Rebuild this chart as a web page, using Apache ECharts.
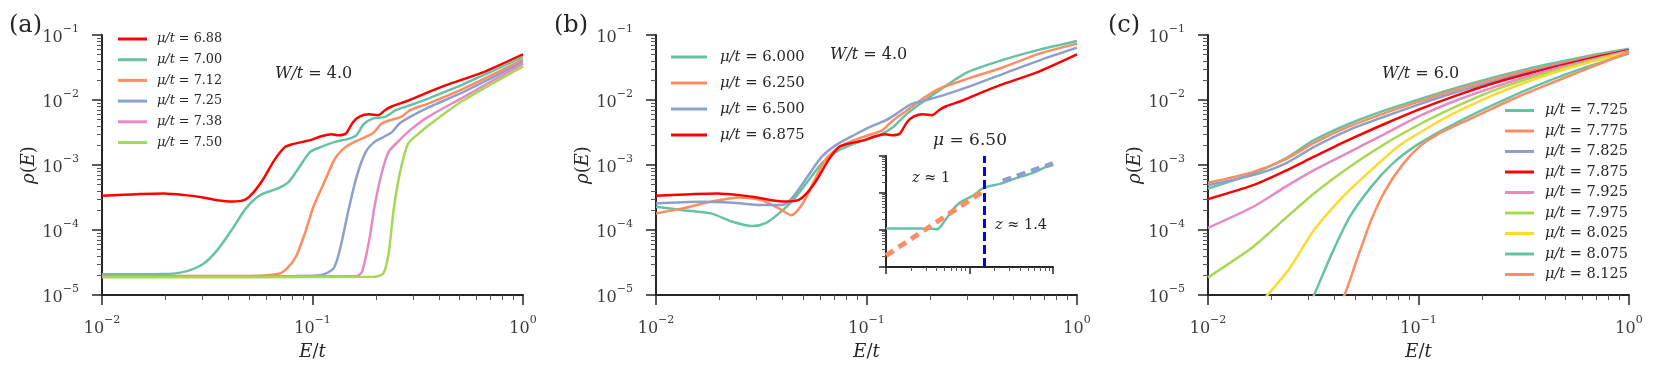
<!DOCTYPE html>
<html><head><meta charset="utf-8">
<script src="https://cdn.jsdelivr.net/npm/echarts@6/dist/echarts.min.js"></script>
<style>html,body{margin:0;padding:0;background:#fff}#c{width:1660px;height:387px}</style>
</head><body><div id="c"></div><script>
// ---------- tick values ----------
const xMajor = [0.01, 0.1, 1];
const xMinor = [0.02,0.03,0.04,0.05,0.06,0.07,0.08,0.09,0.2,0.3,0.4,0.5,0.6,0.7,0.8,0.9];
const yMajor = [1e-5, 1e-4, 1e-3, 1e-2, 1e-1];
const yMinor = [2e-5,3e-5,4e-5,5e-5,6e-5,7e-5,8e-5,9e-5,2e-4,3e-4,4e-4,5e-4,6e-4,7e-4,8e-4,9e-4,
                2e-3,3e-3,4e-3,5e-3,6e-3,7e-3,8e-3,9e-3,2e-2,3e-2,4e-2,5e-2,6e-2,7e-2,8e-2,9e-2];
const insetYMajor = [1e-4, 1e-3, 1e-2, 1e-1];
const insetYMinor = [2e-4,3e-4,4e-4,5e-4,6e-4,7e-4,8e-4,9e-4,2e-3,3e-3,4e-3,5e-3,6e-3,7e-3,8e-3,9e-3,2e-2,3e-2,4e-2,5e-2,6e-2,7e-2,8e-2,9e-2];

// ---------- panel (a): W/t = 4.0, [E/t, rho] ----------
const rho688 = [[0.01,3.36e-4],[0.0196,3.65e-4],[0.0248,3.44e-4],[0.0302,3.17e-4],[0.0353,2.88e-4],[0.0413,2.75e-4],[0.0473,2.88e-4],[0.0522,3.73e-4],[0.0586,6.21e-4],[0.0659,1.19e-3],[0.0741,1.90e-3],[0.0802,2.09e-3],[0.0902,2.27e-3],[0.0975,2.41e-3],[0.110,2.77e-3],[0.123,2.98e-3],[0.133,2.87e-3],[0.144,3.05e-3],[0.156,4.60e-3],[0.168,5.62e-3],[0.186,6.04e-3],[0.205,5.83e-3],[0.221,6.97e-3],[0.239,8.02e-3],[0.280,9.57e-3],[0.327,1.18e-2],[0.431,1.69e-2],[0.635,2.61e-2],[1,5.05e-2]];
const rho700 = [[0.01,2.08e-5],[0.0196,2.10e-5],[0.0248,2.29e-5],[0.0302,2.99e-5],[0.0353,4.91e-5],[0.0413,9.98e-5],[0.0483,2.15e-4],[0.0564,3.44e-4],[0.0685,4.36e-4],[0.0771,5.51e-4],[0.0867,9.38e-4],[0.0975,1.59e-3],[0.110,1.90e-3],[0.128,2.27e-3],[0.150,2.55e-3],[0.162,2.87e-3],[0.175,4.24e-3],[0.193,5.18e-3],[0.221,5.50e-3],[0.249,6.97e-3],[0.291,8.30e-3],[0.354,1.05e-2],[0.522,1.75e-2],[1,4.59e-2]];
const rho712 = [[0.01,1.96e-5],[0.0502,1.96e-5],[0.0685,2.10e-5],[0.0757,2.57e-5],[0.0834,3.88e-5],[0.0920,8.87e-5],[0.101,2.28e-4],[0.114,5.51e-4],[0.128,1.26e-3],[0.144,1.90e-3],[0.162,2.35e-3],[0.182,2.77e-3],[0.197,3.24e-3],[0.213,4.35e-3],[0.239,5.00e-3],[0.264,5.50e-3],[0.291,6.97e-3],[0.354,8.81e-3],[0.522,1.50e-2],[1,4.18e-2]];
const rho725 = [[0.01,1.91e-5],[0.0834,1.96e-5],[0.110,2.03e-5],[0.126,2.57e-5],[0.136,5.53e-5],[0.147,1.80e-4],[0.162,6.58e-4],[0.179,1.59e-3],[0.197,2.27e-3],[0.221,2.77e-3],[0.239,3.24e-3],[0.259,4.35e-3],[0.291,5.50e-3],[0.354,7.64e-3],[0.522,1.33e-2],[1,3.85e-2]];
const rho738 = [[0.01,1.91e-5],[0.162,1.96e-5],[0.172,2.29e-5],[0.186,7.00e-5],[0.197,2.28e-4],[0.213,7.40e-4],[0.230,1.59e-3],[0.259,2.41e-3],[0.291,3.44e-3],[0.354,5.50e-3],[0.522,1.11e-2],[1,3.63e-2]];
const rho750 = [[0.01,1.87e-5],[0.197,1.91e-5],[0.217,2.15e-5],[0.230,4.37e-5],[0.244,2.28e-4],[0.264,9.38e-4],[0.285,2.14e-3],[0.327,3.24e-3],[0.383,4.89e-3],[0.522,9.91e-3],[1,3.30e-2]];

// ---------- panel (b): W/t = 4.0 ----------
const rho6000 = [[0.01,2.28e-4],[0.0134,2.02e-4],[0.0182,1.80e-4],[0.0231,1.34e-4],[0.0286,1.15e-4],[0.0334,1.29e-4],[0.0384,1.80e-4],[0.0448,2.88e-4],[0.0524,5.51e-4],[0.0612,1.05e-3],[0.0716,1.59e-3],[0.0838,2.02e-3],[0.0979,2.41e-3],[0.115,2.87e-3],[0.134,3.85e-3],[0.156,6.18e-3],[0.190,9.91e-3],[0.231,1.55e-2],[0.304,2.70e-2],[0.449,4.18e-2],[0.664,5.96e-2],[1,8.09e-2]];
const rho6250 = [[0.01,1.80e-4],[0.0134,2.15e-4],[0.0182,2.72e-4],[0.0249,3.17e-4],[0.0316,2.88e-4],[0.0384,2.15e-4],[0.0440,1.69e-4],[0.0504,2.72e-4],[0.0566,5.85e-4],[0.0637,1.19e-3],[0.0745,1.90e-3],[0.0871,2.41e-3],[0.102,2.87e-3],[0.119,3.43e-3],[0.134,4.89e-3],[0.156,6.97e-3],[0.190,1.11e-2],[0.222,1.50e-2],[0.304,2.13e-2],[0.449,3.22e-2],[0.664,5.16e-2],[1,7.36e-2]];
const rho6500 = [[0.01,2.56e-4],[0.0162,2.72e-4],[0.0231,2.62e-4],[0.0316,2.42e-4],[0.0398,2.42e-4],[0.0448,3.24e-4],[0.0524,6.58e-4],[0.0612,1.33e-3],[0.0716,2.02e-3],[0.0871,2.87e-3],[0.106,3.95e-3],[0.124,4.89e-3],[0.139,6.18e-3],[0.163,8.61e-3],[0.190,9.91e-3],[0.231,1.18e-2],[0.304,1.59e-2],[0.449,2.55e-2],[0.664,4.08e-2],[1,6.38e-2]];
const rho6875 = rho688;

// inset (mu = 6.50)
const insetRho = [[0.01,1.10e-3],[0.0251,1.10e-3],[0.0355,1.08e-3],[0.0408,1.04e-3],[0.0509,1.81e-3],[0.0617,3.35e-3],[0.0769,5.50e-3],[0.110,8.47e-3],[0.149,1.39e-2],[0.232,1.77e-2],[0.371,2.57e-2],[0.575,3.50e-2],[0.973,6.11e-2]];
const insetFitZ1 = [[0.01,2.04e-4],[0.149,1.15e-2]];
const insetFitZ14 = [[0.251,2.09e-2],[1,6.25e-2]];
const insetCut = 0.149;

// ---------- panel (c): W/t = 6.0 ----------
const rho7725 = [[0.01,4.36e-4],[0.0164,7.40e-4],[0.0233,1.26e-3],[0.0319,2.41e-3],[0.0472,4.35e-3],[0.0697,6.97e-3],[0.103,1.05e-2],[0.152,1.55e-2],[0.225,2.21e-2],[0.333,3.04e-2],[0.491,3.98e-2],[0.726,5.16e-2],[1,6.17e-2]];
const rho7775 = [[0.01,5.32e-4],[0.0164,7.85e-4],[0.0233,1.22e-3],[0.0319,2.19e-3],[0.0472,3.95e-3],[0.0697,6.34e-3],[0.103,9.68e-3],[0.152,1.45e-2],[0.225,2.06e-2],[0.333,2.86e-2],[0.491,3.76e-2],[0.726,4.88e-2],[1,5.81e-2]];
const rho7825 = [[0.01,4.90e-4],[0.0164,6.98e-4],[0.0233,1.05e-3],[0.0319,1.90e-3],[0.0472,3.51e-3],[0.0697,5.62e-3],[0.103,8.81e-3],[0.152,1.33e-2],[0.225,1.92e-2],[0.333,2.70e-2],[0.491,3.63e-2],[0.726,4.75e-2],[1,5.81e-2]];
const rho7875 = [[0.01,2.99e-4],[0.0164,4.90e-4],[0.0233,8.13e-4],[0.0319,1.34e-3],[0.0472,2.47e-3],[0.0697,4.35e-3],[0.103,7.38e-3],[0.152,1.18e-2],[0.225,1.79e-2],[0.333,2.55e-2],[0.491,3.50e-2],[0.726,4.70e-2],[1,5.81e-2]];
const rho7925 = [[0.01,1.08e-4],[0.0164,2.28e-4],[0.0233,4.61e-4],[0.0319,8.34e-4],[0.0472,1.59e-3],[0.0697,3.05e-3],[0.103,5.83e-3],[0.152,9.91e-3],[0.225,1.55e-2],[0.333,2.32e-2],[0.491,3.30e-2],[0.726,4.49e-2],[1,5.68e-2]];
const rho7975 = [[0.01,1.87e-5],[0.0164,5.53e-5],[0.0233,1.51e-4],[0.0319,3.65e-4],[0.0472,9.38e-4],[0.0697,2.14e-3],[0.103,4.35e-3],[0.152,8.02e-3],[0.225,1.38e-2],[0.333,2.13e-2],[0.491,3.11e-2],[0.726,4.33e-2],[1,5.48e-2]];
const rho8025 = [[0.0171,6.6e-6],[0.0238,2.29e-5],[0.0319,9.98e-5],[0.0437,3.24e-4],[0.0596,8.34e-4],[0.0815,2.02e-3],[0.120,4.35e-3],[0.152,6.56e-3],[0.225,1.18e-2],[0.333,1.94e-2],[0.491,2.94e-2],[0.726,4.18e-2],[1,5.35e-2]];
const rho8075 = [[0.0302,7.1e-6],[0.0319,1e-5],[0.0388,4.37e-5],[0.0472,1.60e-4],[0.0596,4.61e-4],[0.0753,1.05e-3],[0.0953,1.90e-3],[0.130,3.43e-3],[0.185,6.18e-3],[0.273,1.11e-2],[0.404,1.90e-2],[0.597,3.04e-2],[1,5.16e-2]];
const rho8125 = [[0.0417,7.1e-6],[0.0445,1e-5],[0.0509,3.45e-5],[0.0596,1.42e-4],[0.0697,4.10e-4],[0.0847,1.05e-3],[0.103,2.02e-3],[0.125,3.05e-3],[0.185,5.50e-3],[0.273,9.91e-3],[0.404,1.69e-2],[0.597,2.80e-2],[1,5.48e-2]];

// ---------- styling ----------
const GREEN='#66c2a5', ORANGE='#fc8d62', BLUE='#8da0cb', PINK='#e78ac3', LIME='#a6d854', YELLOW='#ffd92f', RED='#ff0000';
const SERIF = '"DejaVu Serif", "Liberation Serif", serif';
const AXC = '#262626';
const LBL = '#3a3a3a';
const TXT = '#262626';

const panelSeries = [
  [ ['μ/t = 6.88', rho688, RED], ['μ/t = 7.00', rho700, GREEN], ['μ/t = 7.12', rho712, ORANGE],
    ['μ/t = 7.25', rho725, BLUE], ['μ/t = 7.38', rho738, PINK], ['μ/t = 7.50', rho750, LIME] ],
  [ ['μ/t = 6.000', rho6000, GREEN], ['μ/t = 6.250', rho6250, ORANGE], ['μ/t = 6.500', rho6500, BLUE],
    ['μ/t = 6.875', rho6875, RED] ],
  [ ['μ/t = 7.725', rho7725, GREEN], ['μ/t = 7.775', rho7775, ORANGE], ['μ/t = 7.825', rho7825, BLUE],
    ['μ/t = 7.875', rho7875, RED], ['μ/t = 7.925', rho7925, PINK], ['μ/t = 7.975', rho7975, LIME],
    ['μ/t = 8.025', rho8025, YELLOW], ['μ/t = 8.075', rho8075, GREEN], ['μ/t = 8.125', rho8125, ORANGE] ]
];

const grids = [
  {left:102, top:35, width:421, height:260},
  {left:656, top:35, width:421, height:260},
  {left:1208, top:35, width:421, height:260},
  {left:886, top:156, width:167, height:111}
];

function powFmt(v){
  const e = Math.round(Math.log10(v));
  return '{b|10}{s|' + (e < 0 ? '\u2212' + (-e) : String(e)) + '}';
}
const powRich = {
  b: {fontFamily: SERIF, fontSize: 16, color: LBL, lineHeight: 22, verticalAlign: 'bottom'},
  s: {fontFamily: SERIF, fontSize: 11, color: LBL, lineHeight: 13, verticalAlign: 'top'}
};
const nameRich = {
  i: {fontFamily: SERIF, fontSize: 18, fontStyle: 'italic', color: TXT},
  n: {fontFamily: SERIF, fontSize: 18, color: TXT}
};

function mainAxis(dim, gi, isInset){
  const major = dim === 'x' ? xMajor : (isInset ? insetYMajor : yMajor);
  const min = dim === 'x' ? 0.01 : (isInset ? 1e-4 : 1e-5);
  const ax = {
    type: 'log', logBase: 10, gridIndex: gi, min: min, max: dim === 'x' ? 1 : 0.1,
    position: dim === 'x' ? 'bottom' : 'left',
    axisLine: {show: true, lineStyle: {color: AXC, width: 2}},
    axisTick: {show: true, customValues: major, length: isInset ? 7 : 10, lineStyle: {color: AXC, width: 1.5}},
    axisLabel: isInset ? {show: false} : {show: true, customValues: major, formatter: powFmt, rich: powRich,
               fontFamily: SERIF, fontSize: 16, color: LBL,
               margin: dim === 'x' ? 20 : 23},
    splitLine: {show: false}, minorTick: {show: false}, minorSplitLine: {show: false}
  };
  if (!isInset) {
    if (dim === 'x') {
      ax.name = '{i|E}{n|/}{i|t}'; ax.nameLocation = 'middle'; ax.nameGap = 48;
      ax.nameTextStyle = {rich: nameRich, fontSize: 18, fontFamily: SERIF};
    } else {
      ax.name = '{i|ρ}{n|(}{i|E}{n|)}'; ax.nameLocation = 'middle'; ax.nameGap = 62;
      ax.nameTextStyle = {rich: nameRich, fontSize: 18, fontFamily: SERIF};
    }
  }
  return ax;
}
function minorAxis(dim, gi, isInset){
  const minor = dim === 'x' ? xMinor : (isInset ? insetYMinor : yMinor);
  return {
    type: 'log', logBase: 10, gridIndex: gi, min: dim === 'x' ? 0.01 : (isInset ? 1e-4 : 1e-5), max: dim === 'x' ? 1 : 0.1,
    position: dim === 'x' ? 'bottom' : 'left',
    axisLine: {show: false},
    axisTick: {show: true, customValues: minor, length: isInset ? 4 : 5, lineStyle: {color: '#555', width: 1}},
    axisLabel: {show: false}, splitLine: {show: false}
  };
}

const xAxes = [], yAxes = [];
for (let g = 0; g < 4; g++) { xAxes.push(mainAxis('x', g, g === 3)); yAxes.push(mainAxis('y', g, g === 3)); }
for (let g = 0; g < 4; g++) { xAxes.push(minorAxis('x', g, g === 3)); yAxes.push(minorAxis('y', g, g === 3)); }

const series = [];
panelSeries.forEach((list, g) => {
  list.forEach(([name, data, color]) => {
    series.push({
      type: 'line', name: name, xAxisIndex: g, yAxisIndex: g, data: data,
      showSymbol: false, symbol: 'none', smooth: 0.25, clip: true,
      color: color, lineStyle: {color: color, width: 2.5}, z: 3
    });
  });
});
// inset
series.push({type:'line', name:'inset μ=6.50', xAxisIndex:3, yAxisIndex:3, data: insetRho, showSymbol:false, symbol:'none',
  smooth:0.25, color: GREEN, lineStyle:{color: GREEN, width: 2.5}, z: 3,
  markLine: {silent: true, symbol: 'none', label: {show: false},
    lineStyle: {color: '#0000ff', type: [9, 4], width: 3}, data: [{xAxis: insetCut}]}});
series.push({type:'line', name:'fit z≈1', xAxisIndex:3, yAxisIndex:3, data: insetFitZ1, showSymbol:false, symbol:'none',
  color: ORANGE, lineStyle:{color: ORANGE, width: 5, type: [9, 6]}, z: 4});
series.push({type:'line', name:'fit z≈1.4', xAxisIndex:3, yAxisIndex:3, data: insetFitZ14, showSymbol:false, symbol:'none',
  color: BLUE, lineStyle:{color: BLUE, width: 5, type: [9, 6]}, z: 4});

function legendFmt(name){
  const parts = name.split(' = ');
  return '{i|' + parts[0] + '}{n| = ' + parts[1] + '}';
}
function mkLegend(names, left, top, iw, fs, lh, gap, pad){
  return {
    data: names, left: left, top: top, orient: 'vertical', padding: 0,
    itemWidth: iw, itemHeight: 3, itemGap: gap, icon: 'rect', selectedMode: false,
    formatter: legendFmt,
    textStyle: {fontFamily: SERIF, fontSize: fs, lineHeight: lh, color: TXT,
      rich: {
        i: {fontFamily: SERIF, fontSize: fs, lineHeight: lh, fontStyle: 'italic', color: TXT, padding: [0,0,0,pad]},
        n: {fontFamily: SERIF, fontSize: fs, lineHeight: lh, color: TXT}
      }}
  };
}
const legends = [
  mkLegend(panelSeries[0].map(s => s[0]), 118, 32, 29, 12.8, 14, 6.7, 5),
  mkLegend(panelSeries[1].map(s => s[0]), 671, 48, 36, 14.8, 18, 8, 8),
  mkLegend(panelSeries[2].map(s => s[0]), 1505, 103, 29, 14.5, 15, 5.5, 6)
];

function txt(left, top, text, size, rich){
  return {type: 'text', left: left, top: top, z: 10,
    style: {text: text, fill: TXT, font: size + 'px ' + SERIF, rich: rich}};
}
const mRich = (fs) => ({
  i: {fontFamily: SERIF, fontSize: fs, fontStyle: 'italic', fill: TXT, color: TXT},
  n: {fontFamily: SERIF, fontSize: fs, fill: TXT, color: TXT}
});
const graphics = [
  txt(9, 14, '(a)', 24), txt(554, 14, '(b)', 24), txt(1108, 14, '(c)', 24),
  txt(275, 66, '{i|W/t}{n| = 4.0}', 16, mRich(16)),
  txt(830, 47, '{i|W/t}{n| = 4.0}', 16, mRich(16)),
  txt(1382, 66, '{i|W/t}{n| = 6.0}', 16, mRich(16)),
  txt(933, 132, '{i|μ}{n| = 6.50}', 17, mRich(17)),
  txt(912, 171, '{i|z}{n| ≈ 1}', 14.5, mRich(14.5)),
  txt(995, 218, '{i|z}{n| ≈ 1.4}', 14.5, mRich(14.5))
];

const chart = echarts.init(document.getElementById('c'), null, {renderer: 'canvas'});
chart.setOption({
  animation: false,
  backgroundColor: '#fff',
  grid: grids,
  xAxis: xAxes,
  yAxis: yAxes,
  legend: legends,
  series: series,
  graphic: graphics
});
</script></body></html>
